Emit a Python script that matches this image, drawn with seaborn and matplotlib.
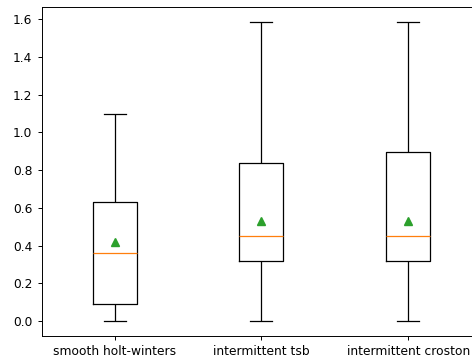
import numpy as np
import pandas as pd
import matplotlib
matplotlib.use("Agg")
import matplotlib.pyplot as plt
import seaborn as sns

methods = ["smooth holt-winters", "intermittent tsb", "intermittent croston"]
holt_winters = [0.0, 0.03, 0.06, 0.09, 0.20, 0.30, 0.36, 0.45, 0.55, 0.633, 0.80, 0.891, 1.096]
tsb = [0.0, 0.05, 0.10, 0.316, 0.33, 0.38, 0.449, 0.47, 0.55, 0.836, 0.90, 0.951, 1.584]
croston = [0.0, 0.02, 0.06, 0.316, 0.32, 0.34, 0.449, 0.46, 0.50, 0.896, 0.93, 1.041, 1.584]

df = pd.DataFrame({
    "method": [methods[0]] * len(holt_winters) + [methods[1]] * len(tsb) + [methods[2]] * len(croston),
    "value": holt_winters + tsb + croston,
})

fig = plt.figure(figsize=(4.72, 3.6), dpi=100)
ax = fig.add_axes([41.5 / 472, 24 / 360, 440 / 472, 328.7 / 360])

sns.boxplot(
    data=df, x="method", y="value", order=methods, ax=ax,
    width=0.3, fill=False, color="black", linewidth=0.9,
    showmeans=True, showfliers=True,
    meanprops=dict(marker="^", markerfacecolor="#2ca02c", markeredgecolor="#2ca02c", markersize=5.5),
    medianprops=dict(color="#ff7f0e", linewidth=0.9),
)
ax.set_xlabel("")
ax.set_ylabel("")
ax.set_yticks([0.0, 0.2, 0.4, 0.6, 0.8, 1.0, 1.2, 1.4, 1.6])
ax.set_ylim(-0.0792, 1.6632)
ax.set_xlim(-0.5, 2.5)
ax.tick_params(labelsize=8.8, length=3.1, width=0.7)
for s in ax.spines.values():
    s.set_linewidth(0.7)

fig.savefig("out.png", dpi=100)
